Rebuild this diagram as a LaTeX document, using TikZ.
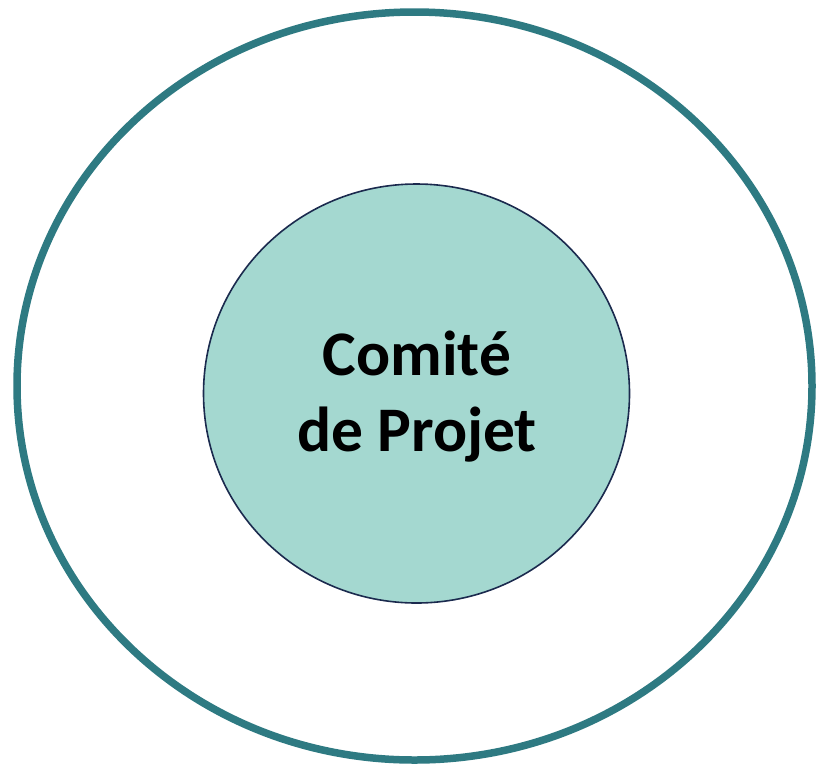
\documentclass[tikz,border=0pt]{standalone}
\usepackage{fontspec}
\setmainfont{Carlito}
\definecolor{outerc}{HTML}{2E7A82}
\definecolor{innerfill}{HTML}{A4D8D0}
\definecolor{innerdraw}{HTML}{1B2A4E}
\begin{document}
\begin{tikzpicture}[x=1pt,y=-1pt,
  outerring/.style={draw=outerc,line width=7.5pt},
  core/.style={draw=innerdraw,line width=1.6pt,fill=innerfill},
  label/.style={font=\fontsize{63.5}{76}\selectfont\bfseries,align=center,text=black}]
\useasboundingbox (0,0) rectangle (818,764);
\draw[outerring] (414.5,386) ellipse [x radius=397.5, y radius=374];
\draw[core] (416.5,393.5) ellipse [x radius=213, y radius=209.5];
\node[label] (title) at (417,397) {Comité\\de Projet};
\end{tikzpicture}
\end{document}
